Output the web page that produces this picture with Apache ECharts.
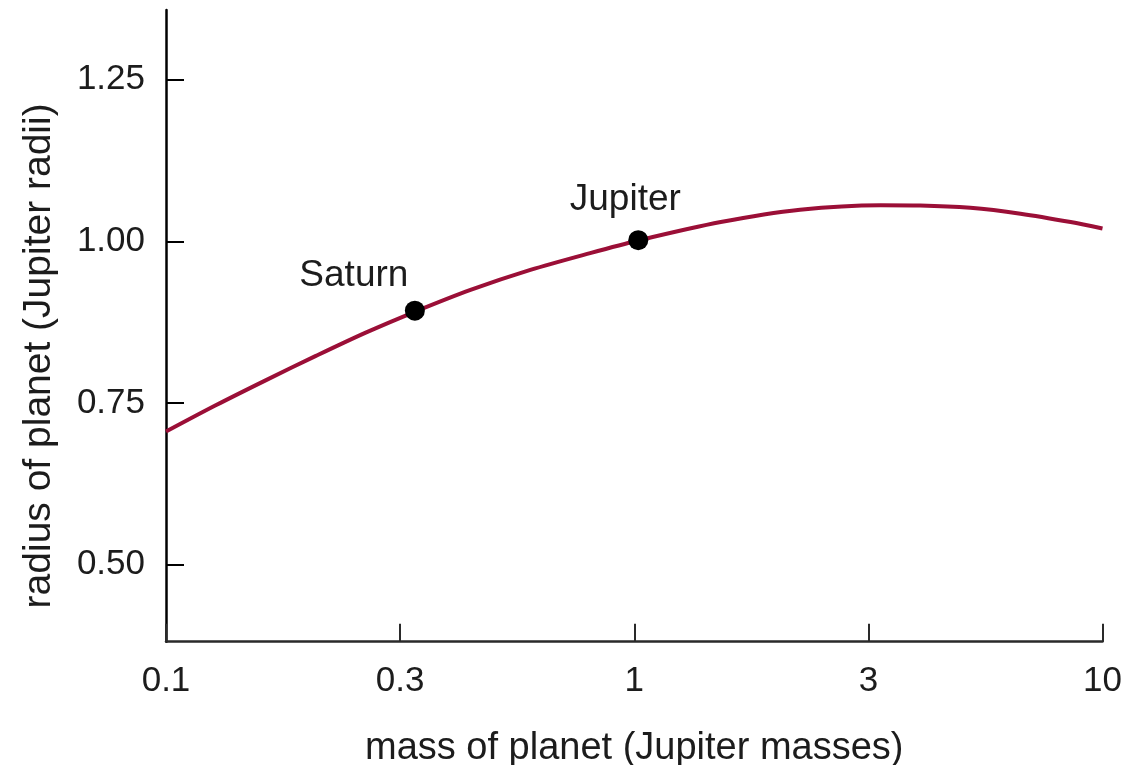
<!DOCTYPE html>
<html>
<head>
<meta charset="utf-8">
<title>Mass–radius relation for giant planets</title>
<script src="https://cdn.jsdelivr.net/npm/echarts@6/dist/echarts.min.js"></script>
<style>
  html, body { margin: 0; padding: 0; background: #fff; }
  #chart { width: 1126px; height: 765px; }
</style>
</head>
<body>
<div id="chart"></div>
<script>
// Model curve: planet mass (Jupiter masses) vs. radius (Jupiter radii)
const curveMass   = [0.1, 0.128, 0.164, 0.209, 0.267, 0.342, 0.447, 0.600, 0.805, 1.02, 1.53, 2.26, 3.36, 4.08, 5.22, 6.68, 8.55, 10];
const curveRadius = [0.706, 0.747, 0.786, 0.823, 0.859, 0.892, 0.925, 0.956, 0.982, 1.0015, 1.030, 1.049, 1.056, 1.0556, 1.052, 1.043, 1.030, 1.020];

// Marked planets
const planetNames  = ['Saturn', 'Jupiter'];
const planetMass   = [0.34, 1.02];
const planetRadius = [0.893, 1.002];

// Axis tick labels
const xTickLabels = ['0.1', '0.3', '1', '3', '10'];
const yTickValues = [0.50, 0.75, 1.00, 1.25];

const textColor = '#1c1c1c';
const fontFamily = '"Liberation Sans", Arial, Helvetica, sans-serif';

// The mass axis is logarithmic: plot log10(mass) on a linear axis with half-decade ticks
const curveData = curveMass.map((m, i) => [Math.log10(m), curveRadius[i]]);
const labelOffsets = { Saturn: [-61, -35], Jupiter: [-13, -40] };
const planetData = planetNames.map((name, i) => ({
  name: name,
  value: [Math.log10(planetMass[i]), planetRadius[i]],
  label: { offset: labelOffsets[name] }
}));

const chart = echarts.init(document.getElementById('chart'), null, { renderer: 'canvas' });
chart.setOption({
  backgroundColor: '#ffffff',
  animation: false,
  grid: { left: 166, right: 23.5, top: 10, bottom: 123.3, containLabel: false, outerBoundsMode: 'none' },
  xAxis: {
    type: 'value',
    min: -1,
    max: 1,
    interval: 0.5,
    name: 'mass of planet (Jupiter masses)',
    nameLocation: 'middle',
    nameGap: 88,
    nameTextStyle: { color: textColor, fontSize: 38, fontFamily: fontFamily },
    axisLine: { show: true, onZero: false, lineStyle: { color: '#2a2a2a', width: 2.5 } },
    axisTick: { show: true, inside: true, length: 18, lineStyle: { color: '#2a2a2a', width: 2 } },
    axisLabel: {
      color: textColor, fontSize: 35, fontFamily: fontFamily, margin: 22,
      showMinLabel: true, showMaxLabel: true,
      formatter: v => xTickLabels[Math.round((v + 1) / 0.5)]
    },
    splitLine: { show: false }
  },
  yAxis: {
    type: 'value',
    min: 0.381,
    max: 1.358,
    name: 'radius of planet (Jupiter radii)',
    nameLocation: 'middle',
    nameGap: 107,
    nameTextStyle: { color: textColor, fontSize: 39, fontFamily: fontFamily, padding: [0, 60, 0, 0] },
    axisLine: { show: true, onZero: false, lineStyle: { color: '#000', width: 2.5 } },
    axisTick: { show: true, inside: true, length: 18, customValues: yTickValues, lineStyle: { color: '#000', width: 2 } },
    axisLabel: {
      color: textColor, fontSize: 35, fontFamily: fontFamily, margin: 21,
      customValues: yTickValues,
      formatter: v => v.toFixed(2)
    },
    splitLine: { show: false }
  },
  series: [
    {
      type: 'line',
      data: curveData,
      smooth: 0.3,
      symbol: 'none',
      lineStyle: { color: '#9b0f37', width: 4 },
      z: 2
    },
    {
      type: 'scatter',
      data: planetData,
      symbol: 'circle',
      symbolSize: 20,
      itemStyle: { color: '#000', opacity: 1 },
      label: {
        show: true,
        position: 'inside',
        formatter: p => p.name,
        color: textColor,
        opacity: 1,
        fontSize: 37,
        fontFamily: fontFamily
      },
      z: 3
    }
  ]
});
</script>
</body>
</html>
